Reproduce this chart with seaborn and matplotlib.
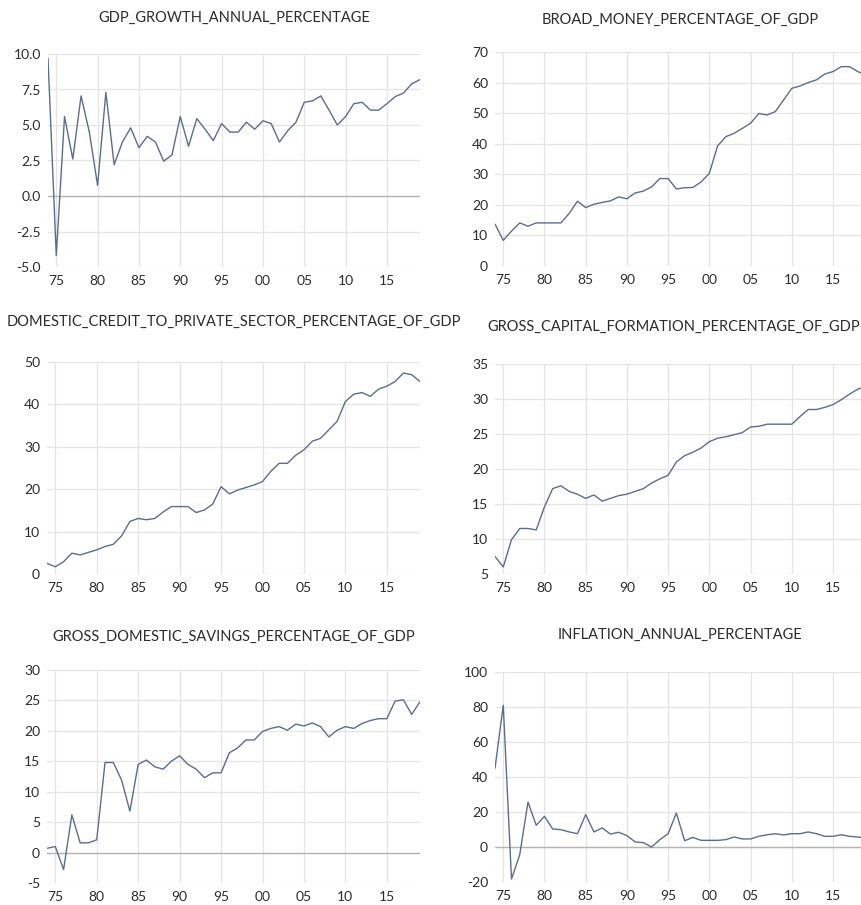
import matplotlib
matplotlib.use("Agg")
import matplotlib.pyplot as plt
import numpy as np
import pandas as pd
import seaborn as sns

years = list(range(1974, 2020))

gdp_growth = [9.7, -4.2, 5.6, 2.6, 7.05, 4.5, 0.75, 7.3, 2.2, 3.8,
              4.8, 3.4, 4.2, 3.8, 2.45, 2.9, 5.6, 3.5, 5.45, 4.7,
              3.9, 5.1, 4.5, 4.5, 5.2, 4.7, 5.3, 5.1, 3.8, 4.6,
              5.2, 6.6, 6.7, 7.05, 6.05, 5.0, 5.6, 6.5, 6.6, 6.05,
              6.05, 6.5, 7.0, 7.25, 7.9, 8.2]

broad_money = [13.7, 8.4, 11.4, 14.1, 13.0, 14.1, 14.1, 14.1, 14.1, 17.2,
               21.2, 19.1, 20.2, 20.8, 21.3, 22.6, 22.0, 23.9, 24.5, 25.9,
               28.6, 28.6, 25.2, 25.6, 25.7, 27.5, 30.3, 39.3, 42.3, 43.4,
               45.0, 46.7, 49.9, 49.4, 50.5, 54.3, 58.1, 58.9, 60.0, 60.9,
               62.8, 63.6, 65.2, 65.2, 63.6, 62.5]

domestic_credit = [2.5, 1.7, 2.9, 4.9, 4.5, 5.1, 5.7, 6.5, 7.0, 9.0,
                   12.4, 13.1, 12.8, 13.1, 14.6, 15.9, 15.9, 15.9, 14.5, 15.1,
                   16.5, 20.6, 18.9, 19.8, 20.4, 21.0, 21.8, 24.2, 26.1, 26.1,
                   28.0, 29.3, 31.3, 32.0, 34.0, 36.0, 40.7, 42.4, 42.8, 41.9,
                   43.6, 44.3, 45.4, 47.4, 47.0, 45.4]

capital_formation = [7.5, 6.0, 9.9, 11.5, 11.5, 11.3, 14.6, 17.2, 17.6, 16.8,
                     16.4, 15.8, 16.3, 15.4, 15.8, 16.2, 16.4, 16.8, 17.2, 18.0,
                     18.6, 19.1, 21.0, 21.9, 22.4, 23.0, 23.9, 24.4, 24.6, 24.9,
                     25.2, 26.0, 26.1, 26.4, 26.4, 26.4, 26.4, 27.5, 28.5, 28.5,
                     28.8, 29.2, 29.9, 30.7, 31.4, 31.8]

domestic_savings = [0.7, 1.0, -2.8, 6.2, 1.6, 1.6, 2.1, 14.8, 14.8, 11.9,
                    6.8, 14.5, 15.2, 14.1, 13.7, 15.0, 15.9, 14.5, 13.7, 12.3,
                    13.1, 13.1, 16.4, 17.2, 18.5, 18.5, 19.9, 20.4, 20.7, 20.1,
                    21.1, 20.8, 21.3, 20.7, 19.0, 20.1, 20.7, 20.4, 21.2, 21.7,
                    22.0, 22.0, 24.9, 25.1, 22.7, 24.8]

inflation = [45.0, 81.0, -18.3, -4.4, 25.7, 12.4, 17.5, 10.3, 9.9, 8.6,
             7.6, 18.5, 8.6, 10.9, 7.4, 8.4, 6.5, 2.9, 2.5, 0.0,
             4.2, 7.6, 19.4, 3.6, 5.5, 3.8, 3.8, 3.8, 4.2, 5.7,
             4.6, 4.6, 6.1, 7.0, 7.6, 6.9, 7.6, 7.6, 8.6, 7.6,
             6.1, 6.1, 7.0, 6.1, 5.7, 5.0]

titles = ["GDP_GROWTH_ANNUAL_PERCENTAGE",
          "BROAD_MONEY_PERCENTAGE_OF_GDP",
          "DOMESTIC_CREDIT_TO_PRIVATE_SECTOR_PERCENTAGE_OF_GDP",
          "GROSS_CAPITAL_FORMATION_PERCENTAGE_OF_GDP",
          "GROSS_DOMESTIC_SAVINGS_PERCENTAGE_OF_GDP",
          "INFLATION_ANNUAL_PERCENTAGE"]
series = [gdp_growth, broad_money, domestic_credit,
          capital_formation, domestic_savings, inflation]
y_ticks = [[-5.0, -2.5, 0.0, 2.5, 5.0, 7.5, 10.0],
           [0, 10, 20, 30, 40, 50, 60, 70],
           [0, 10, 20, 30, 40, 50],
           [5, 10, 15, 20, 25, 30, 35],
           [-5, 0, 5, 10, 15, 20, 25, 30],
           [-20, 0, 20, 40, 60, 80, 100]]
y_fmt = ["{:.1f}", "{:.0f}", "{:.0f}", "{:.0f}", "{:.0f}", "{:.0f}"]
x_ticks = [1975, 1980, 1985, 1990, 1995, 2000, 2005, 2010, 2015]

sns.set_style("white")
plt.rcParams["font.family"] = ["Lato", "DejaVu Sans"]

W, H = 862, 905
fig = plt.figure(figsize=(W / 100, H / 100), dpi=100)

# panel boxes in pixels: x0, y0 (top), x1, y1 (bottom), title centre y
boxes = [(48, 54, 420, 267, 18),
         (495, 52, 866, 266, 20),
         (47, 362, 420, 574, 322),
         (495, 364, 866, 574, 327),
         (47, 670, 420, 883, 637),
         (495, 672, 866, 882, 635)]

line_color = "#5a6e8c"
text_color = "#2b2b2b"

title_texts = []
for i, (x0, y0, x1, y1, ty) in enumerate(boxes):
    ax = fig.add_axes([x0 / W, 1 - y1 / H, (x1 - x0) / W, (y1 - y0) / H])
    df = pd.DataFrame({"year": years, "value": series[i]})
    sns.lineplot(data=df, x="year", y="value", ax=ax, color=line_color,
                 linewidth=1.0)
    ax.set_xlim(1974, 2019)
    yt = y_ticks[i]
    ax.set_ylim(yt[0], yt[-1])
    ax.set_yticks(yt)
    ax.set_yticklabels([y_fmt[i].format(v) for v in yt])
    ax.set_xticks(x_ticks)
    ax.set_xticklabels(["{:02d}".format(y % 100) for y in x_ticks])
    ax.set_xlabel("")
    ax.set_ylabel("")
    ax.grid(True, color="#e4e4e4", linewidth=0.9)
    ax.set_axisbelow(True)
    if yt[0] < 0:
        ax.axhline(0, color="#b4b4b4", linewidth=1.0, zorder=1)
    for s in ax.spines.values():
        s.set_visible(False)
    ax.tick_params(axis="both", length=0, labelsize=10, colors=text_color)
    ax.tick_params(axis="y", pad=5)
    ax.tick_params(axis="x", pad=6)
    cx = (x0 + x1) / 2
    t = fig.text(cx / W, 1 - ty / H, titles[i], ha="center",
                 va="center", fontsize=10.5, color=text_color)
    title_texts.append((t, cx, ty))

# keep long titles inside the right edge of the figure
renderer = fig.canvas.get_renderer()
for t, cx, ty in title_texts:
    bb = t.get_window_extent(renderer)
    over = bb.x1 - (W - 2)
    if over > 0:
        t.set_position(((cx - over) / W, 1 - ty / H))

fig.savefig("out.png", dpi=100)
